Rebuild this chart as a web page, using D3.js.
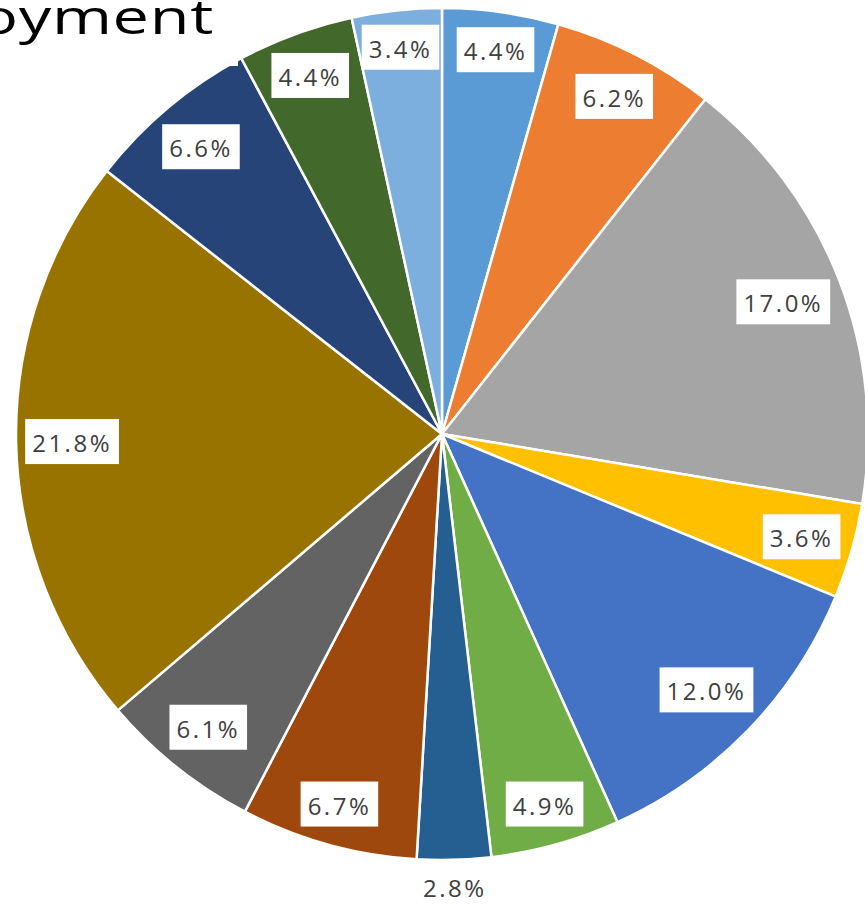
<!DOCTYPE html>
<html>
<head>
<meta charset="utf-8">
<script src="https://cdn.jsdelivr.net/npm/d3@7"></script>
<style>
  html, body { margin: 0; padding: 0; background: #fff; overflow: hidden; }
  svg { display: block; }
</style>
</head>
<body>
<svg id="chart" width="865" height="905"></svg>
<script>
// ---- data (clockwise from 12 o'clock) ----
const values = [4.4, 6.2, 17.0, 3.6, 12.0, 4.9, 2.8, 6.7, 6.1, 21.8, 6.6, 4.4, 3.4];
const colors = ["#5B9BD5", "#ED7D31", "#A5A5A5", "#FFC000", "#4472C4", "#70AD47",
                "#255E91", "#9E480E", "#636363", "#997300", "#264478", "#43682B", "#7CAFDD"];
const titleText = "Employment";

// ---- layout ----
const W = 865, H = 905;
const cx = 442, cy = 434, R = 426;
const svg = d3.select("#chart");
const g = svg.append("g").attr("transform", `translate(${cx},${cy})`);

const pie = d3.pie().sort(null).value(d => d);
const arcs = pie(values);
const arc = d3.arc().innerRadius(0).outerRadius(R);

g.selectAll("path.slice")
  .data(arcs)
  .join("path")
  .attr("class", "slice")
  .attr("d", arc)
  .attr("fill", (d, i) => colors[i])
  .attr("stroke", "#fff")
  .attr("stroke-width", 2.5)
  .attr("stroke-linejoin", "round");

// ---- labels: "inside end" style boxes ----
const fmt = d => d.toFixed(1) + "%";
const labelFont = "'Open Sans', 'DejaVu Sans', sans-serif";
const padX = 7, boxH = 45, inset = 8;

const lg = g.append("g");
arcs.forEach((a, i) => {
  const mid = (a.startAngle + a.endAngle) / 2;
  const dx = Math.sin(mid), dy = -Math.cos(mid);
  const t = lg.append("text")
    .text(fmt(a.value))
    .attr("font-family", labelFont)
    .attr("font-size", 24)
    .attr("letter-spacing", "2.5px")
    .attr("fill", "#404040")
    .attr("text-anchor", "middle")
    .attr("dominant-baseline", "central");
  const tw = t.node().getComputedTextLength();
  if (a.value < 3) {
    // small slice: label outside, no box
    const d = R + 28;
    t.attr("x", dx * d).attr("y", dy * d);
    return;
  }
  const bw = tw + 2 * padX;
  // find distance so the outer corner of box sits at R - inset
  const sx = dx >= 0 ? 1 : -1, sy = dy >= 0 ? 1 : -1;
  let d = R;
  for (let k = 0; k < 400; k++) {
    const px = dx * d + sx * bw / 2, py = dy * d + sy * boxH / 2;
    if (Math.hypot(px, py) <= R - inset) break;
    d -= 1;
  }
  const x = dx * d, y = dy * d;
  lg.insert("rect", () => t.node())
    .attr("x", x - bw / 2).attr("y", y - boxH / 2)
    .attr("width", bw).attr("height", boxH)
    .attr("fill", "#fff");
  t.attr("x", x).attr("y", y + 1);
});

// ---- title block (mostly cropped in the reference) ----
svg.append("rect").attr("x", 0).attr("y", 0).attr("width", 238).attr("height", 66).attr("fill", "#fff");
svg.append("g")
  .attr("transform", "translate(214,34) scale(1.38,1)")
  .append("text")
  .text(titleText)
  .attr("x", 0).attr("y", 0)
  .attr("text-anchor", "end")
  .attr("font-family", "'Open Sans', sans-serif")
  .attr("font-size", 47)
  .attr("letter-spacing", "0.5px")
  .attr("fill", "#000");
</script>
</body>
</html>
